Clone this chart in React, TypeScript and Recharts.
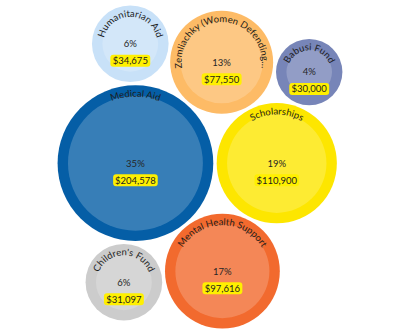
import React from 'react'
import { ScatterChart, Scatter, XAxis, YAxis, ZAxis } from 'recharts'

// funds, sorted by share (largest first, the order the bubbles are packed in)
const names = [
  'Medical Aid',
  'Scholarships',
  'Mental Health Support',
  'Zemliachky (Women Defending…',
  'Humanitarian Aid',
  "Children's Fund",
  'Babusi Fund',
]
const amounts = [204578, 110900, 97616, 77550, 34675, 31097, 30000]
const shares = [35, 19, 17, 13, 6, 6, 4]

const colors = ['#055ea6', '#fde600', '#f26a2e', '#fdbb66', '#c8e1f8', '#cccccc', '#7785b8']

const WIDTH = 400
const HEIGHT = 335
const K = 11.4 // px of inner radius per sqrt(share)
const RING = 10.4
const GAP = 3.4
const MAX_SHARE = Math.max(...shares)

type Circle = { x: number; y: number; r: number }
type ChainNode = { c: Circle; next: ChainNode; previous: ChainNode }

// front-chain circle packing (same idea as d3.packSiblings)
function place(b: Circle, a: Circle, c: Circle) {
  const dx = b.x - a.x
  const dy = b.y - a.y
  const d2 = dx * dx + dy * dy
  if (d2) {
    let a2 = a.r + c.r
    a2 *= a2
    let b2 = b.r + c.r
    b2 *= b2
    if (a2 > b2) {
      const x = (d2 + b2 - a2) / (2 * d2)
      const y = Math.sqrt(Math.max(0, b2 / d2 - x * x))
      c.x = b.x - x * dx - y * dy
      c.y = b.y - x * dy + y * dx
    } else {
      const x = (d2 + a2 - b2) / (2 * d2)
      const y = Math.sqrt(Math.max(0, a2 / d2 - x * x))
      c.x = a.x + x * dx - y * dy
      c.y = a.y + x * dy + y * dx
    }
  } else {
    c.x = a.x + c.r
    c.y = a.y
  }
}

function intersects(a: Circle, b: Circle) {
  const dr = a.r + b.r - 1e-6
  const dx = b.x - a.x
  const dy = b.y - a.y
  return dr > 0 && dr * dr > dx * dx + dy * dy
}

function score(node: ChainNode) {
  const a = node.c
  const b = node.next.c
  const ab = a.r + b.r
  const dx = (a.x * b.r + b.x * a.r) / ab
  const dy = (a.y * b.r + b.y * a.r) / ab
  return dx * dx + dy * dy
}

function makeNode(c: Circle): ChainNode {
  return { c, next: null as any, previous: null as any }
}

function packSiblings(circles: Circle[]) {
  const n = circles.length
  if (!n) return
  circles[0].x = 0
  circles[0].y = 0
  if (n < 2) return
  circles[0].x = -circles[1].r
  circles[1].x = circles[0].r
  circles[1].y = 0
  if (n < 3) return
  place(circles[1], circles[0], circles[2])

  let a = makeNode(circles[0])
  let b = makeNode(circles[1])
  let c = makeNode(circles[2])
  a.next = c.previous = b
  b.next = a.previous = c
  c.next = b.previous = a

  pack: for (let i = 3; i < n; ++i) {
    place(a.c, b.c, circles[i])
    c = makeNode(circles[i])
    let j = b.next
    let k = a.previous
    let sj = b.c.r
    let sk = a.c.r
    do {
      if (sj <= sk) {
        if (intersects(j.c, c.c)) {
          b = j
          a.next = b
          b.previous = a
          --i
          continue pack
        }
        sj += j.c.r
        j = j.next
      } else {
        if (intersects(k.c, c.c)) {
          a = k
          a.next = b
          b.previous = a
          --i
          continue pack
        }
        sk += k.c.r
        k = k.previous
      }
    } while (j !== k.next)

    c.previous = a
    c.next = b
    a.next = b.previous = b = c

    let aa = score(a)
    while ((c = c.next) !== b) {
      const ca = score(c)
      if (ca < aa) {
        a = c
        aa = ca
      }
    }
    b = a.next
  }
}

const circles: Circle[] = shares.map(s => ({ x: 0, y: 0, r: K * Math.sqrt(s) + RING + GAP / 2 }))
packSiblings(circles)

const minX = Math.min(...circles.map(c => c.x - c.r))
const maxX = Math.max(...circles.map(c => c.x + c.r))
const minY = Math.min(...circles.map(c => c.y - c.r))
const maxY = Math.max(...circles.map(c => c.y + c.r))
const midX = (minX + maxX) / 2
const midY = (minY + maxY) / 2

const data = names.map((name, i) => ({
  name,
  amount: amounts[i],
  share: shares[i],
  x: circles[i].x,
  y: circles[i].y,
}))

const fmt = (v: number) => '$' + v.toLocaleString('en-US')

function Bubble(props: any) {
  const { cx, cy, payload } = props
  const i = names.indexOf(payload.name)
  const r = props.width ? props.width / 2 : Math.sqrt(props.size / Math.PI)
  const tr = r - 1
  const id = `arc-${i}`
  const label = fmt(payload.amount)
  const w = label.length * 4.7 + 7
  const by = cy + 17
  // full circle starting at the bottom, clockwise, so 50% is the top
  const d = `M ${cx} ${cy + tr} A ${tr} ${tr} 0 1 1 ${cx} ${cy - tr} A ${tr} ${tr} 0 1 1 ${cx} ${cy + tr}`
  return (
    <g>
      <circle cx={cx} cy={cy} r={r + RING} fill={colors[i]} />
      <circle cx={cx} cy={cy} r={r} fill="#ffffff" fillOpacity={0.2} />
      <path id={id} d={d} fill="none" />
      <text fontSize={9.5} fill="#1e1e1e">
        <textPath href={`#${id}`} startOffset="50%" textAnchor="middle">
          {payload.name}
        </textPath>
      </text>
      <text x={cx} y={cy} dy="0.35em" textAnchor="middle" fontSize={9.5} fill="#262626">
        {payload.share}%
      </text>
      <rect x={cx - w / 2} y={by - 6} width={w} height={12} rx={3} fill="#fff000" />
      <text x={cx} y={by} dy="0.35em" textAnchor="middle" fontSize={9.5} fill="#1e1e1e">
        {label}
      </text>
    </g>
  )
}

export default function App() {
  return (
    <div style={{ position: 'absolute', left: 0, top: 0, fontFamily: 'Lato, sans-serif' }}>
      <ScatterChart width={WIDTH} height={HEIGHT} margin={{ top: 0, right: 0, bottom: 0, left: 0 }}>
        <XAxis type="number" dataKey="x" domain={[midX - WIDTH / 2, midX + WIDTH / 2]} hide />
        <YAxis type="number" dataKey="y" domain={[midY - 167, midY + 168]} reversed hide />
        <ZAxis
          type="number"
          dataKey="share"
          domain={[0, MAX_SHARE]}
          range={[0, Math.PI * K * K * MAX_SHARE]}
        />
        <Scatter data={data} shape={<Bubble />} isAnimationActive={false} />
      </ScatterChart>
    </div>
  )
}
